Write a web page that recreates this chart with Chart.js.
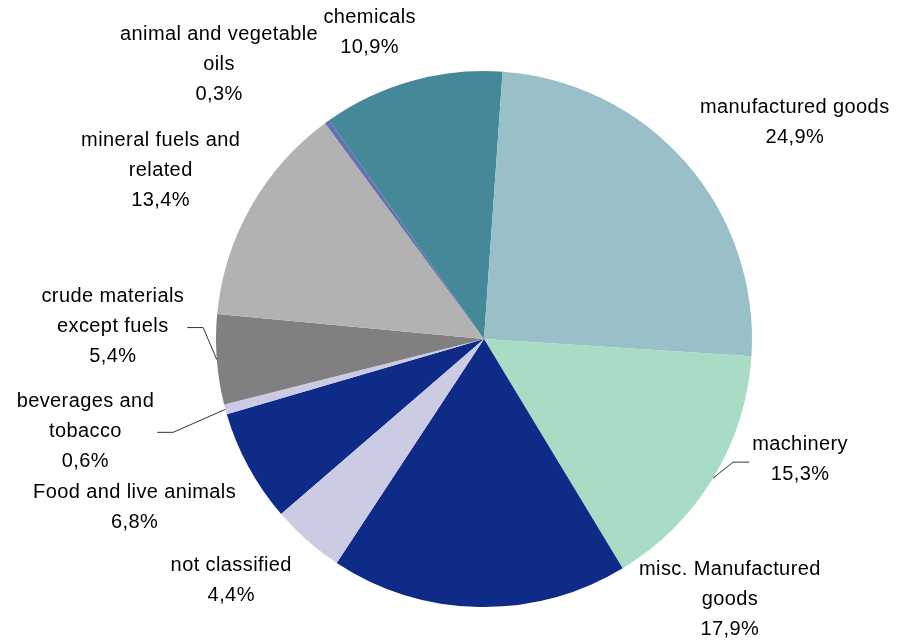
<!DOCTYPE html>
<html>
<head>
<meta charset="utf-8">
<script src="https://cdn.jsdelivr.net/npm/chart.js@4/dist/chart.umd.min.js"></script>
<style>
  html, body { margin: 0; padding: 0; background: #fff; }
  canvas { display: block; }
</style>
</head>
<body>
<canvas id="pie" width="897" height="643"></canvas>
<script>
// trade by product group, share of total (%)
var categories = ['Food and live animals', 'beverages and tobacco', 'crude materials except fuels',
  'mineral fuels and related', 'animal and vegetable oils', 'chemicals', 'manufactured goods',
  'machinery', 'misc. Manufactured goods', 'not classified'];
var shares = [6.8, 0.6, 5.4, 13.4, 0.3, 10.9, 24.9, 15.3, 17.9, 4.4];

// how each label is broken over lines
var labelLines = [
  ['Food and live animals'],
  ['beverages and', 'tobacco'],
  ['crude materials', 'except fuels'],
  ['mineral fuels and', 'related'],
  ['animal and vegetable', 'oils'],
  ['chemicals'],
  ['manufactured goods'],
  ['machinery'],
  ['misc. Manufactured', 'goods'],
  ['not classified']
];

var colors = ['#0F2B88', '#CBCBE3', '#808080', '#B2B2B2', '#6670B0',
  '#458898', '#99C0C8', '#A8DCC4', '#0F2B88', '#CBCBE3'];

// label block centre, relative to the middle of each slice's outer edge
var labelOffsets = [[-114, 40], [-140, 22], [-104, -33], [-90, -37], [-108, -57],
  [-42, -48], [109, -40], [87, -19], [251, -7], [-76, 40]];
var leaders = [false, true, true, false, false, false, false, true, false, false];

var LINE_H = 30;

function fmtPct(v) {
  return v.toFixed(1).replace('.', ',') + '%';
}

var labelPlugin = {
  id: 'sliceLabels',
  afterDatasetsDraw: function(chart) {
    var ctx = chart.ctx;
    var meta = chart.getDatasetMeta(0);
    ctx.save();
    ctx.font = '20px "Liberation Sans", Arial, sans-serif';
    ctx.letterSpacing = '0.4px';
    ctx.fillStyle = '#000';
    ctx.textAlign = 'center';
    ctx.textBaseline = 'middle';
    meta.data.forEach(function(arc, i) {
      var p = arc.getProps(['x', 'y', 'startAngle', 'endAngle', 'outerRadius'], true);
      var mid = (p.startAngle + p.endAngle) / 2;
      var ex = p.x + Math.cos(mid) * p.outerRadius;
      var ey = p.y + Math.sin(mid) * p.outerRadius;
      var cx = ex + labelOffsets[i][0];
      var cy = ey + labelOffsets[i][1];
      var lines = labelLines[i].concat([fmtPct(shares[i])]);
      var y0 = cy - (lines.length - 1) * LINE_H / 2;
      var w = 0;
      lines.forEach(function(t, k) {
        ctx.fillText(t, cx, y0 + k * LINE_H);
        w = Math.max(w, ctx.measureText(t).width);
      });

      if (leaders[i]) {
        var side = labelOffsets[i][0] < 0 ? 1 : -1;
        var bx = cx + side * (w / 2 + 3);
        var ly = cy + (lines.length % 2 ? 1 : 3);
        ctx.beginPath();
        ctx.strokeStyle = '#333';
        ctx.lineWidth = 1;
        ctx.moveTo(bx, ly);
        ctx.lineTo(bx + side * 16, ly);
        ctx.lineTo(ex, ey);
        ctx.stroke();
      }
    });
    ctx.restore();
  }
};

var chart_pie = document.getElementById('pie').getContext('2d');
var myPie = new Chart(chart_pie, {
  type: 'pie',
  data: {
    labels: categories,
    datasets: [{
      data: shares,
      backgroundColor: colors,
      borderWidth: 0,
      hoverOffset: 0
    }]
  },
  options: {
    responsive: false,
    animation: false,
    devicePixelRatio: 1,
    rotation: 229.2,
    layout: { padding: { left: 216, right: 145, top: 71, bottom: 36 } },
    plugins: {
      legend: { display: false },
      tooltip: { enabled: false }
    }
  },
  plugins: [labelPlugin]
});
</script>
</body>
</html>
